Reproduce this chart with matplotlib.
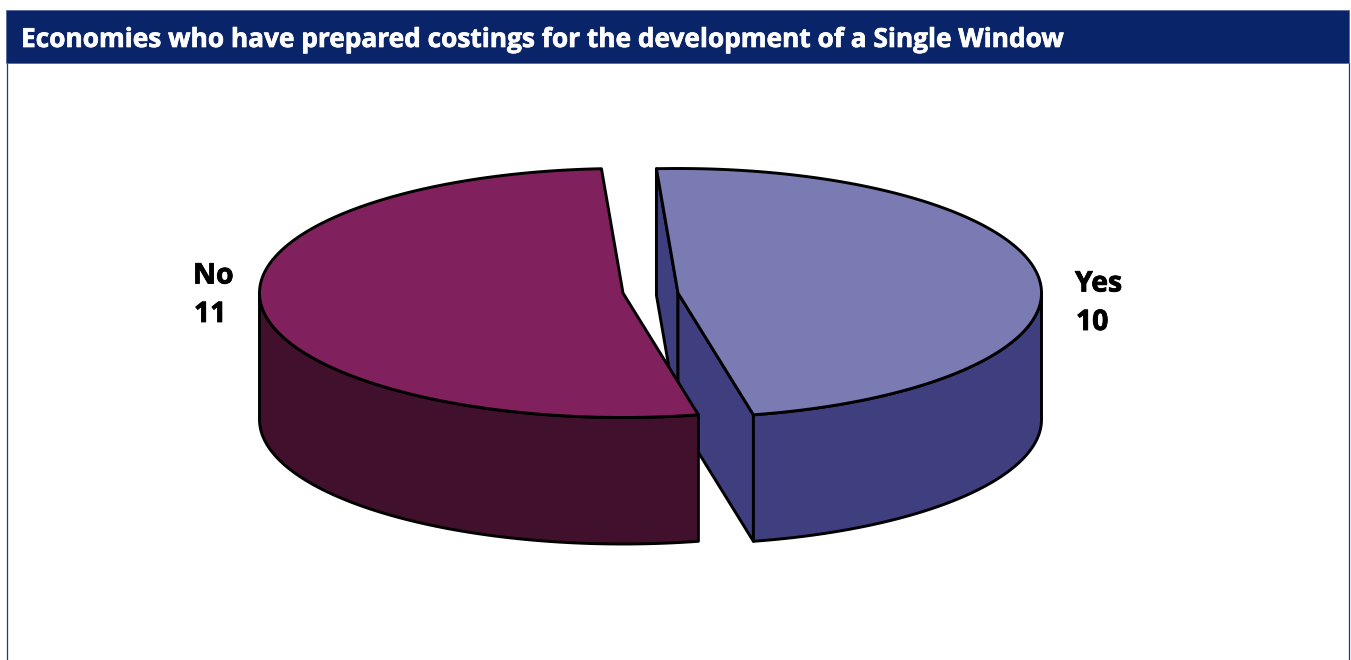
import numpy as np
import matplotlib
matplotlib.use("Agg")
import matplotlib.pyplot as plt
import matplotlib.patheffects as pe
from matplotlib.patches import Polygon, Rectangle

title = "Economies who have prepared costings for the development of a Single Window"
categories = ["Yes", "No"]
values = [10, 11]

top_colors = {"Yes": "#7B7BB3", "No": "#80205C"}
side_colors = {"Yes": "#3F3F80", "No": "#41102D"}
centers = {"Yes": (678.0, 293.0), "No": (623.0, 293.0)}
label_pos = {"Yes": (1075, 284), "No": (193, 276)}
RX, RY, DEPTH = 363.5, 124.5, 126.5
START = 93.4
EDGE = dict(edgecolor="black", linewidth=2.1, joinstyle="round")

plt.rcParams["font.family"] = ["Open Sans", "DejaVu Sans"]
fig = plt.figure(figsize=(13.51, 6.6), dpi=100, facecolor="white")
ax = fig.add_axes([0, 0, 1, 1])
ax.set_xlim(0, 1351)
ax.set_ylim(660, 0)
ax.axis("off")

# frame and title band
ax.plot([6.5, 6.5], [63, 660], color="#1A3A8C", lw=0.9, zorder=1)
ax.plot([1348.5, 1348.5], [63, 660], color="#1A3A8C", lw=0.9, zorder=1)
ax.add_patch(Rectangle((6, 9.5), 1343, 53, facecolor="#0A246A", edgecolor="#5A6FA0", lw=0.7, zorder=2))
ax.text(21, 39.5, title, color="white", fontsize=18.9, fontweight="bold", va="center", ha="left", zorder=3,
        path_effects=[pe.withStroke(linewidth=0.5, foreground="white")])


def pt(c, deg, dz=0.0):
    a = np.radians(deg)
    return np.column_stack([c[0] + RX * np.cos(a), c[1] - RY * np.sin(a) + dz])


total = sum(values)
yes_sweep = values[0] / total * 360
no_sweep = values[1] / total * 360

# Yes slice runs clockwise from START
c = centers["Yes"]
end = START - yes_sweep
s, t = side_colors["Yes"], top_colors["Yes"]
p_start = pt(c, START)[0]
p_end = pt(c, end)[0]
apex = np.array(c)
down = np.array([0, DEPTH])
ax.add_patch(Polygon([p_start, apex, apex + down, p_start + down], closed=True, facecolor=s, zorder=5, **EDGE))
ax.add_patch(Polygon([apex, p_end, p_end + down, apex + down], closed=True, facecolor=s, zorder=5, **EDGE))
arc = np.linspace(end, 0, 120)
wall = np.vstack([pt(c, arc), pt(c, arc[::-1], DEPTH)])
ax.add_patch(Polygon(wall, closed=True, facecolor=s, zorder=5, **EDGE))
arc = np.linspace(START, end, 300)
ax.add_patch(Polygon(np.vstack([apex, pt(c, arc)]), closed=True, facecolor=t, zorder=6, **EDGE))

# No slice runs anticlockwise from START
c = centers["No"]
end = START + no_sweep
s, t = side_colors["No"], top_colors["No"]
apex = np.array(c)
arc = np.linspace(180, end, 120)
wall = np.vstack([pt(c, arc), pt(c, arc[::-1], DEPTH)])
ax.add_patch(Polygon(wall, closed=True, facecolor=s, zorder=7, **EDGE))
arc = np.linspace(START, end, 300)
ax.add_patch(Polygon(np.vstack([apex, pt(c, arc)]), closed=True, facecolor=t, zorder=8, **EDGE))

stroke = [pe.withStroke(linewidth=0.6, foreground="black")]
for name, v in zip(categories, values):
    x, y = label_pos[name]
    ax.text(x, y, name, fontsize=20.4, fontweight="bold", color="black", va="center", ha="left", zorder=9, path_effects=stroke)
    ax.text(x + 1, y + 38.5, str(v), fontsize=20.4, fontweight="bold", color="black", va="center", ha="left", zorder=9, path_effects=stroke)

fig.savefig("out.png", dpi=100)
